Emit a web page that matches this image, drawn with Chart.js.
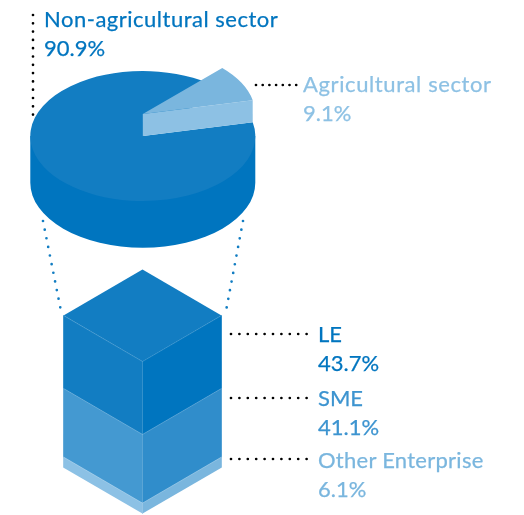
<!DOCTYPE html>
<html>
<head>
<meta charset="utf-8">
<script src="https://cdn.jsdelivr.net/npm/chart.js@4"></script>
<style>
  html, body { margin: 0; padding: 0; background: #fff; }
  #wrap { position: relative; width: 524px; height: 515px; overflow: hidden; }
  canvas { position: absolute; left: 0; top: 0; }
  .lbl { position: absolute; font-family: Lato, sans-serif; font-size: 22px; line-height: 29px; white-space: nowrap; -webkit-text-stroke: 0.25px currentColor; }
</style>
</head>
<body>
<div id="wrap">
  <canvas id="pie" width="524" height="515"></canvas>
  <canvas id="block" width="524" height="515"></canvas>
</div>
<script>
const sectorNames = ["Non-agricultural sector", "Agricultural sector"];
const sectorValues = [90.9, 9.1];
const sizeNames = ["Other Enterprise", "SME", "LE"];
const sizeValues = [6.1, 41.1, 43.7];

const blue = "#127dc2";
const deep = "#0075bf";

// pie look
const squash = 65 / 112.5;
const pieDepth = 46.7;
const lift = 22;

const fakePie = {
  id: "fakePie",
  beforeDatasetDraw(chart) {
    const ctx = chart.ctx;
    const [big, small] = chart.getDatasetMeta(0).data;
    const { x, y, outerRadius: r } = big;
    const ry = r * squash;

    // side wall, runs up under the top face so no light seam shows
    ctx.fillStyle = deep;
    ctx.beginPath();
    ctx.moveTo(x - r, y);
    ctx.lineTo(x + r, y);
    ctx.lineTo(x + r, y + pieDepth);
    ctx.ellipse(x, y + pieDepth, r, ry, 0, 0, Math.PI);
    ctx.closePath();
    ctx.fill();

    const drawArc = (arc, up) => {
      ctx.save();
      ctx.translate(x, y - up);
      ctx.scale(1, squash);
      ctx.translate(-x, -y);
      arc.draw(ctx);
      ctx.restore();
    };
    drawArc(big, 0);

    // cut face of the raised slice
    const ex = x + r * Math.cos(small.endAngle);
    const ey = y + ry * Math.sin(small.endAngle);
    ctx.fillStyle = "#8dc1e4";
    ctx.beginPath();
    ctx.moveTo(x, y);
    ctx.lineTo(ex, ey);
    ctx.lineTo(ex, ey - lift);
    ctx.lineTo(x, y - lift);
    ctx.closePath();
    ctx.fill();

    drawArc(small, lift);
    return false;
  },
};

new Chart(document.getElementById("pie"), {
  type: "pie",
  data: {
    labels: sectorNames,
    datasets: [{
      data: sectorValues,
      backgroundColor: [blue, "#7ab6de"],
      borderWidth: 0,
    }],
  },
  options: {
    responsive: false,
    animation: false,
    rotation: 77.7,
    layout: { padding: { left: 30.3, right: 268.7, top: 23.5, bottom: 266.5 } },
    plugins: { legend: { display: false }, tooltip: { enabled: false } },
  },
  plugins: [fakePie],
});

// block look
const slope = 46 / 79;

const fakeBlock = {
  id: "fakeBlock",
  beforeDatasetsDraw(chart) {
    const ctx = chart.ctx;
    const { left, right, top } = chart.chartArea;
    const mid = (left + right) / 2;
    const rise = (mid - left) * slope;
    ctx.fillStyle = blue;
    ctx.beginPath();
    ctx.moveTo(left, top);
    ctx.lineTo(mid, top - rise);
    ctx.lineTo(right, top);
    ctx.lineTo(mid, top + rise);
    ctx.closePath();
    ctx.fill();
  },
  beforeDatasetDraw(chart, args) {
    const ctx = chart.ctx;
    const { left, right } = chart.chartArea;
    args.meta.data.forEach((bar, i) => {
      ctx.save();
      if (i === 0) ctx.transform(1, slope, 0, 1, 0, -slope * left);
      else ctx.transform(1, -slope, 0, 1, 0, slope * right);
      bar.draw(ctx);
      ctx.restore();
    });
    return false;
  },
  afterDatasetsDraw(chart) {
    const ctx = chart.ctx;
    const { left, right, top } = chart.chartArea;
    const mid = (left + right) / 2;
    const rise = (mid - left) * slope;
    const yScale = chart.scales.y;
    ctx.strokeStyle = "rgba(255,255,255,0.22)";
    ctx.lineWidth = 0.8;
    ctx.beginPath();
    ctx.moveTo(left, top);
    ctx.lineTo(mid, top + rise);
    ctx.lineTo(right, top);
    let sum = 0;
    sizeValues.forEach((v) => {
      sum += v;
      if (sum >= yScale.max) return;
      const yy = yScale.getPixelForValue(sum);
      ctx.moveTo(left, yy);
      ctx.lineTo(mid, yy + rise);
      ctx.lineTo(right, yy);
    });
    ctx.moveTo(mid, top + rise);
    ctx.lineTo(mid, yScale.getPixelForValue(0) + rise);
    ctx.stroke();
    leaders(ctx);
  },
};

new Chart(document.getElementById("block"), {
  type: "bar",
  data: {
    labels: ["left", "right"],
    datasets: [
      { label: sizeNames[0], data: [sizeValues[0], sizeValues[0]], backgroundColor: ["#8cc1e5", "#7ab6de"] },
      { label: sizeNames[1], data: [sizeValues[1], sizeValues[1]], backgroundColor: ["#4499d1", "#308dcb"] },
      { label: sizeNames[2], data: [sizeValues[2], sizeValues[2]], backgroundColor: [blue, deep] },
    ],
  },
  options: {
    responsive: false,
    animation: false,
    barPercentage: 1,
    categoryPercentage: 1,
    layout: { padding: { left: 63.5, right: 302.5, top: 315.5, bottom: 47.7 } },
    scales: {
      x: { stacked: true, display: false },
      y: { stacked: true, display: false, min: 0, max: 90.9 },
    },
    plugins: { legend: { display: false }, tooltip: { enabled: false } },
  },
  plugins: [fakeBlock],
});

function dots(ctx, x1, y1, x2, y2, gap, color) {
  ctx.save();
  ctx.strokeStyle = color;
  ctx.lineWidth = 2.7;
  ctx.lineCap = "round";
  ctx.setLineDash([0, gap]);
  ctx.beginPath();
  ctx.moveTo(x1, y1);
  ctx.lineTo(x2, y2);
  ctx.stroke();
  ctx.restore();
}

function leaders(ctx) {
  dots(ctx, 33, 15, 33, 115, 8.3, "#000");
  dots(ctx, 256, 85, 297, 85, 6.7, "#000");
  dots(ctx, 231, 334, 307, 334, 8.4, "#000");
  dots(ctx, 231, 398, 307, 398, 8.4, "#000");
  dots(ctx, 231, 459, 307, 459, 8.4, "#000");
  dots(ctx, 43, 221, 61, 311, 8.8, blue);
  dots(ctx, 243, 221, 226, 311, 8.8, blue);
}

const labels = [
  { name: sectorNames[0], value: sectorValues[0], x: 44, y: 4, color: deep, track: 0.5 },
  { name: sectorNames[1], value: sectorValues[1], x: 303, y: 69, color: "#8dc1e4", track: 0.6 },
  { name: sizeNames[2], value: sizeValues[2], x: 318, y: 319, color: deep, track: 0 },
  { name: sizeNames[1], value: sizeValues[1], x: 318, y: 383, color: "#3d94d0", track: 0 },
  { name: sizeNames[0], value: sizeValues[0], x: 318, y: 445, color: "#7ab6de", track: 0.27 },
];

labels.forEach((l) => {
  const div = document.createElement("div");
  div.className = "lbl";
  div.style.left = l.x + "px";
  div.style.top = l.y + "px";
  div.style.color = l.color;
  const name = document.createElement("span");
  name.style.letterSpacing = l.track + "px";
  name.textContent = l.name;
  div.appendChild(name);
  div.appendChild(document.createElement("br"));
  div.appendChild(document.createTextNode(l.value.toFixed(1) + "%"));
  document.getElementById("wrap").appendChild(div);
});
</script>
</body>
</html>
